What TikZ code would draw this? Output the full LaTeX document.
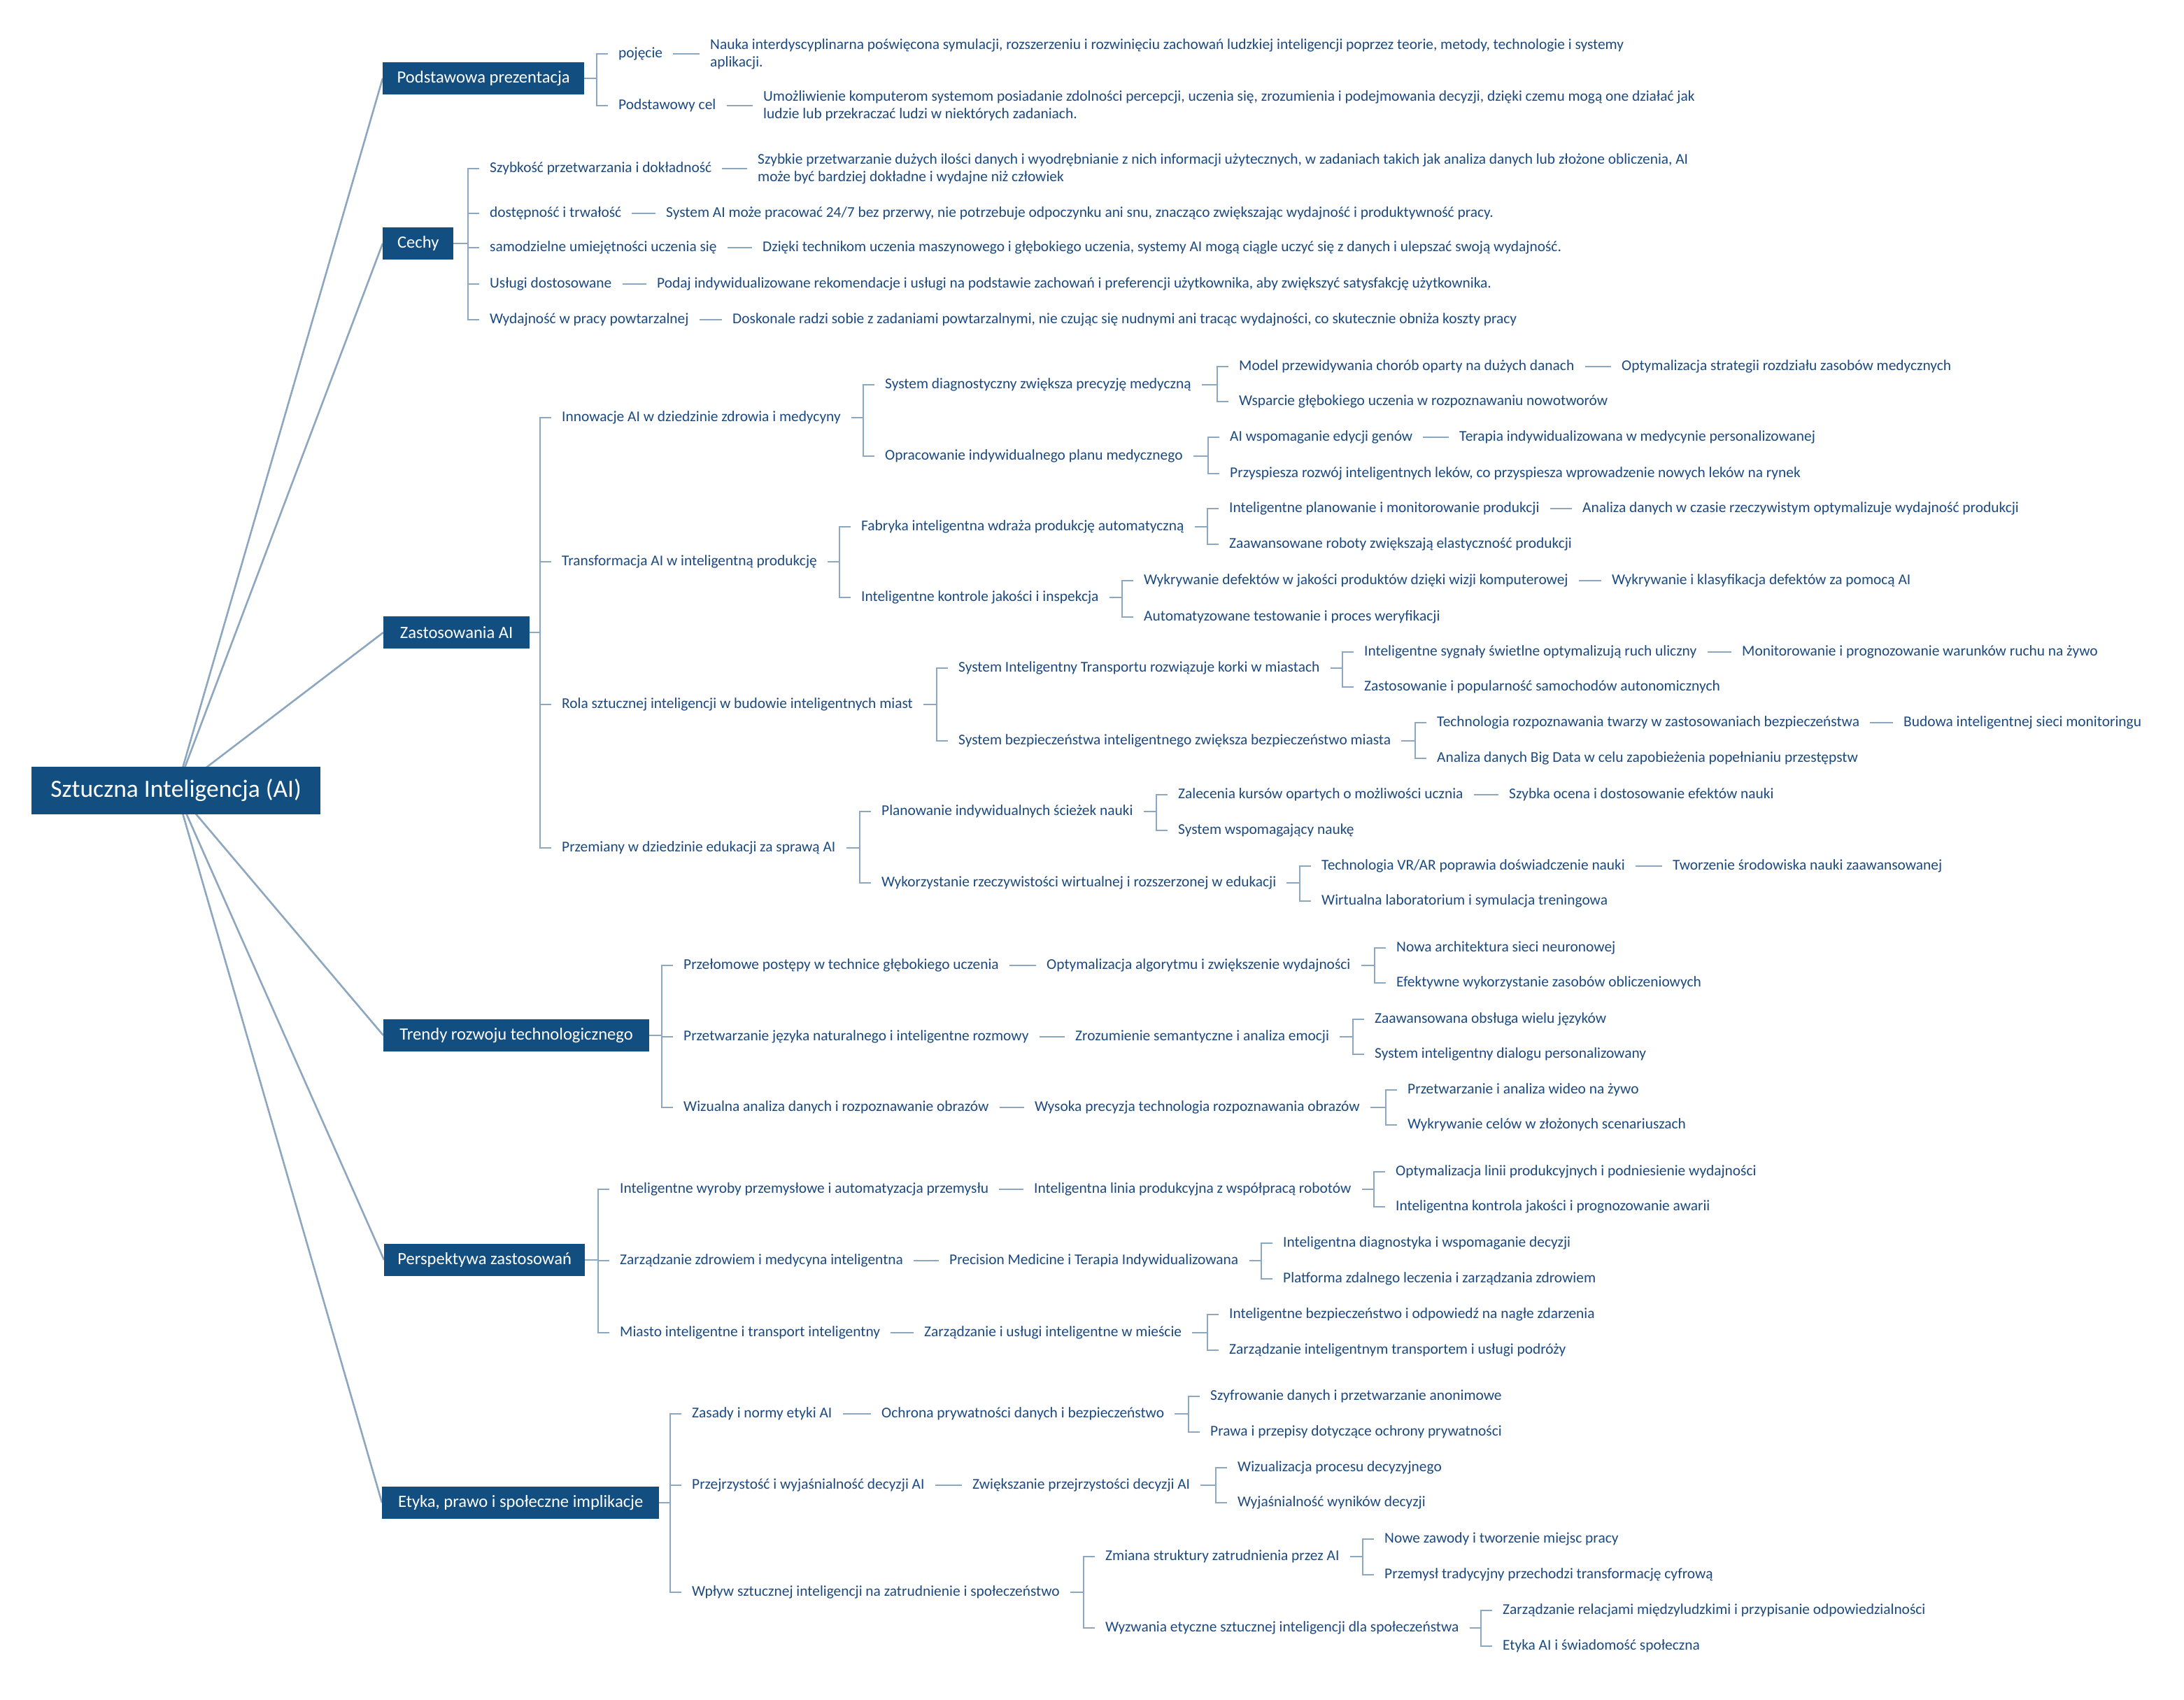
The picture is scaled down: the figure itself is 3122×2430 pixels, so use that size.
\documentclass[tikz,border=0pt]{standalone}
\usepackage{fontspec}
\setmainfont{Carlito}
\usetikzlibrary{backgrounds}
\definecolor{boxblue}{HTML}{124E80}
\definecolor{txt}{HTML}{1C4A80}
\definecolor{ln}{HTML}{8DA7C0}
\begin{document}
\begin{tikzpicture}[x=1pt,y=-1pt,
  t/.style={anchor=west, xshift=-15pt, inner xsep=15pt, inner ysep=1pt, text=txt, font=\fontsize{21.4}{25}\selectfont, align=left},
  bx/.style={anchor=west, fill=boxblue, text=white, font=\fontsize{24.6}{28}\selectfont, minimum height=46pt, inner xsep=0pt, inner ysep=0pt},
  cn/.style={draw=ln, line width=2.2pt},
  rl/.style={draw=ln, line width=2.6pt}]
\useasboundingbox (0,0) rectangle (3122,2430);

% root and level-1 boxes
\node[fill=boxblue, text=white, font=\fontsize{35.5}{40}\selectfont, minimum width=413pt, minimum height=68pt, inner sep=0pt, anchor=west] (root) at (45,1130) {Sztuczna Inteligencja (AI)};
\node[bx, minimum width=288pt] (b1) at (547,112) {Podstawowa prezentacja};
\node[bx, minimum width=101pt] (b2) at (547,348) {Cechy};
\node[bx, minimum width=209pt] (b3) at (548,904) {Zastosowania AI};
\node[bx, minimum width=380pt] (b4) at (548,1480) {Trendy rozwoju technologicznego};
\node[bx, minimum width=287pt] (b5) at (549,1801) {Perspektywa zastosowań};
\node[bx, minimum width=396pt] (b6) at (546,2148) {Etyka, prawo i społeczne implikacje};

\begin{scope}[on background layer]
\fill[white] (0,0) rectangle (3122,2430);
\foreach \b in {b1,b2,b3,b4,b5,b6} \draw[rl] (root.center) -- (\b.west);
\end{scope}

% Podstawowa prezentacja
\node[t] (a1) at (884,77) {pojęcie};
\node[t] (a1x) at (1015,77) {Nauka interdyscyplinarna poświęcona symulacji, rozszerzeniu i rozwinięciu zachowań ludzkiej inteligencji poprzez teorie, metody, technologie i systemy\\aplikacji.};
\node[t] (a2) at (884,151) {Podstawowy cel};
\node[t] (a2x) at (1091,151) {Umożliwienie komputerom systemom posiadanie zdolności percepcji, uczenia się, zrozumienia i podejmowania decyzji, dzięki czemu mogą one działać jak\\ludzie lub przekraczać ludzi w niektórych zadaniach.};

% Cechy
\node[t] (c1) at (700,241) {Szybkość przetwarzania i dokładność};
\node[t] (c1x) at (1083,241) {Szybkie przetwarzanie dużych ilości danych i wyodrębnianie z nich informacji użytecznych, w zadaniach takich jak analiza danych lub złożone obliczenia, AI\\może być bardziej dokładne i wydajne niż człowiek};
\node[t] (c2) at (700,305) {dostępność i trwałość};
\node[t] (c2x) at (952,305) {System AI może pracować 24/7 bez przerwy, nie potrzebuje odpoczynku ani snu, znacząco zwiększając wydajność i produktywność pracy.};
\node[t] (c3) at (700,354) {samodzielne umiejętności uczenia się};
\node[t] (c3x) at (1090,354) {Dzięki technikom uczenia maszynowego i głębokiego uczenia, systemy AI mogą ciągle uczyć się z danych i ulepszać swoją wydajność.};
\node[t] (c4) at (700,406) {Usługi dostosowane};
\node[t] (c4x) at (939,406) {Podaj indywidualizowane rekomendacje i usługi na podstawie zachowań i preferencji użytkownika, aby zwiększyć satysfakcję użytkownika.};
\node[t] (c5) at (700,457) {Wydajność w pracy powtarzalnej};
\node[t] (c5x) at (1047,457) {Doskonale radzi sobie z zadaniami powtarzalnymi, nie czując się nudnymi ani tracąc wydajności, co skutecznie obniża koszty pracy};

% Zastosowania AI
\node[t] (d1) at (803,597) {Innowacje AI w dziedzinie zdrowia i medycyny};
\node[t] (d11) at (1265,550) {System diagnostyczny zwiększa precyzję medyczną};
\node[t] (d111) at (1771,524) {Model przewidywania chorób oparty na dużych danach};
\node[t] (d111x) at (2318,524) {Optymalizacja strategii rozdziału zasobów medycznych};
\node[t] (d112) at (1771,574) {Wsparcie głębokiego uczenia w rozpoznawaniu nowotworów};
\node[t] (d12) at (1265,652) {Opracowanie indywidualnego planu medycznego};
\node[t] (d121) at (1758,625) {AI wspomaganie edycji genów};
\node[t] (d121x) at (2086,625) {Terapia indywidualizowana w medycynie personalizowanej};
\node[t] (d122) at (1758,677) {Przyspiesza rozwój inteligentnych leków, co przyspiesza wprowadzenie nowych leków na rynek};

\node[t] (d2) at (803,803) {Transformacja AI w inteligentną produkcję};
\node[t] (d21) at (1231,753) {Fabryka inteligentna wdraża produkcję automatyczną};
\node[t] (d211) at (1757,727) {Inteligentne planowanie i monitorowanie produkcji};
\node[t] (d211x) at (2262,727) {Analiza danych w czasie rzeczywistym optymalizuje wydajność produkcji};
\node[t] (d212) at (1757,778) {Zaawansowane roboty zwiększają elastyczność produkcji};
\node[t] (d22) at (1231,854) {Inteligentne kontrole jakości i inspekcja};
\node[t] (d221) at (1635,830) {Wykrywanie defektów w jakości produktów dzięki wizji komputerowej};
\node[t] (d221x) at (2304,830) {Wykrywanie i klasyfikacja defektów za pomocą AI};
\node[t] (d222) at (1635,882) {Automatyzowane testowanie i proces weryfikacji};

\node[t] (d3) at (803,1007) {Rola sztucznej inteligencji w budowie inteligentnych miast};
\node[t] (d31) at (1370,955) {System Inteligentny Transportu rozwiązuje korki w miastach};
\node[t] (d311) at (1950,932) {Inteligentne sygnały świetlne optymalizują ruch uliczny};
\node[t] (d311x) at (2490,932) {Monitorowanie i prognozowanie warunków ruchu na żywo};
\node[t] (d312) at (1950,982) {Zastosowanie i popularność samochodów autonomicznych};
\node[t] (d32) at (1370,1059) {System bezpieczeństwa inteligentnego zwiększa bezpieczeństwo miasta};
\node[t] (d321) at (2054,1033) {Technologia rozpoznawania twarzy w zastosowaniach bezpieczeństwa};
\node[t] (d321x) at (2721,1033) {Budowa inteligentnej sieci monitoringu};
\node[t] (d322) at (2054,1084) {Analiza danych Big Data w celu zapobieżenia popełnianiu przestępstw};

\node[t] (d4) at (803,1212) {Przemiany w dziedzinie edukacji za sprawą AI};
\node[t] (d41) at (1260,1160) {Planowanie indywidualnych ścieżek nauki};
\node[t] (d411) at (1684,1136) {Zalecenia kursów opartych o możliwości ucznia};
\node[t] (d411x) at (2157,1136) {Szybka ocena i dostosowanie efektów nauki};
\node[t] (d412) at (1684,1187) {System wspomagający naukę};
\node[t] (d42) at (1260,1262) {Wykorzystanie rzeczywistości wirtualnej i rozszerzonej w edukacji};
\node[t] (d421) at (1889,1238) {Technologia VR/AR poprawia doświadczenie nauki};
\node[t] (d421x) at (2391,1238) {Tworzenie środowiska nauki zaawansowanej};
\node[t] (d422) at (1889,1288) {Wirtualna laboratorium i symulacja treningowa};

% Trendy
\node[t] (e1) at (977,1380) {Przełomowe postępy w technice głębokiego uczenia};
\node[t] (e1x) at (1496,1380) {Optymalizacja algorytmu i zwiększenie wydajności};
\node[t] (e11) at (1996,1355) {Nowa architektura sieci neuronowej};
\node[t] (e12) at (1996,1405) {Efektywne wykorzystanie zasobów obliczeniowych};
\node[t] (e2) at (977,1482) {Przetwarzanie języka naturalnego i inteligentne rozmowy};
\node[t] (e2x) at (1537,1482) {Zrozumienie semantyczne i analiza emocji};
\node[t] (e21) at (1965,1457) {Zaawansowana obsługa wielu języków};
\node[t] (e22) at (1965,1507) {System inteligentny dialogu personalizowany};
\node[t] (e3) at (977,1583) {Wizualna analiza danych i rozpoznawanie obrazów};
\node[t] (e3x) at (1479,1583) {Wysoka precyzja technologia rozpoznawania obrazów};
\node[t] (e31) at (2012,1558) {Przetwarzanie i analiza wideo na żywo};
\node[t] (e32) at (2012,1608) {Wykrywanie celów w złożonych scenariuszach};

% Perspektywa
\node[t] (f1) at (886,1700) {Inteligentne wyroby przemysłowe i automatyzacja przemysłu};
\node[t] (f1x) at (1478,1700) {Inteligentna linia produkcyjna z współpracą robotów};
\node[t] (f11) at (1995,1675) {Optymalizacja linii produkcyjnych i podniesienie wydajności};
\node[t] (f12) at (1995,1725) {Inteligentna kontrola jakości i prognozowanie awarii};
\node[t] (f2) at (886,1802) {Zarządzanie zdrowiem i medycyna inteligentna};
\node[t] (f2x) at (1357,1802) {Precision Medicine i Terapia Indywidualizowana};
\node[t] (f21) at (1834,1777) {Inteligentna diagnostyka i wspomaganie decyzji};
\node[t] (f22) at (1834,1828) {Platforma zdalnego leczenia i zarządzania zdrowiem};
\node[t] (f3) at (886,1905) {Miasto inteligentne i transport inteligentny};
\node[t] (f3x) at (1321,1905) {Zarządzanie i usługi inteligentne w mieście};
\node[t] (f31) at (1757,1879) {Inteligentne bezpieczeństwo i odpowiedź na nagłe zdarzenia};
\node[t] (f32) at (1757,1930) {Zarządzanie inteligentnym transportem i usługi podróży};

% Etyka
\node[t] (g1) at (989,2021) {Zasady i normy etyki AI};
\node[t] (g1x) at (1260,2021) {Ochrona prywatności danych i bezpieczeństwo};
\node[t] (g11) at (1730,1996) {Szyfrowanie danych i przetwarzanie anonimowe};
\node[t] (g12) at (1730,2047) {Prawa i przepisy dotyczące ochrony prywatności};
\node[t] (g2) at (989,2123) {Przejrzystość i wyjaśnialność decyzji AI};
\node[t] (g2x) at (1390,2123) {Zwiększanie przejrzystości decyzji AI};
\node[t] (g21) at (1769,2098) {Wizualizacja procesu decyzyjnego};
\node[t] (g22) at (1769,2148) {Wyjaśnialność wyników decyzji};
\node[t] (g3) at (989,2276) {Wpływ sztucznej inteligencji na zatrudnienie i społeczeństwo};
\node[t] (g31) at (1580,2225) {Zmiana struktury zatrudnienia przez AI};
\node[t] (g311) at (1979,2200) {Nowe zawody i tworzenie miejsc pracy};
\node[t] (g312) at (1979,2251) {Przemysł tradycyjny przechodzi transformację cyfrową};
\node[t] (g32) at (1580,2327) {Wyzwania etyczne sztucznej inteligencji dla społeczeństwa};
\node[t] (g321) at (2148,2302) {Zarządzanie relacjami międzyludzkimi i przypisanie odpowiedzialności};
\node[t] (g322) at (2148,2353) {Etyka AI i świadomość społeczna};

% bracket connectors (child -> parent)
\foreach \p/\c in {b1/a1,b1/a2,b2/c1,b2/c2,b2/c3,b2/c4,b2/c5,
  b3/d1,b3/d2,b3/d3,b3/d4,
  d1/d11,d1/d12,d11/d111,d11/d112,d12/d121,d12/d122,
  d2/d21,d2/d22,d21/d211,d21/d212,d22/d221,d22/d222,
  d3/d31,d3/d32,d31/d311,d31/d312,d32/d321,d32/d322,
  d4/d41,d4/d42,d41/d411,d41/d412,d42/d421,d42/d422,
  b4/e1,b4/e2,b4/e3,e1x/e11,e1x/e12,e2x/e21,e2x/e22,e3x/e31,e3x/e32,
  b5/f1,b5/f2,b5/f3,f1x/f11,f1x/f12,f2x/f21,f2x/f22,f3x/f31,f3x/f32,
  b6/g1,b6/g2,b6/g3,g1x/g11,g1x/g12,g2x/g21,g2x/g22,
  g3/g31,g3/g32,g31/g311,g31/g312,g32/g321,g32/g322}
  \draw[cn] (\c.west) -- ++(-16,0) |- (\p.east);

% single-child dashes
\foreach \a/\b in {a1/a1x,a2/a2x,c1/c1x,c2/c2x,c3/c3x,c4/c4x,c5/c5x,
  d111/d111x,d121/d121x,d211/d211x,d221/d221x,d311/d311x,d321/d321x,d411/d411x,d421/d421x,
  e1/e1x,e2/e2x,e3/e3x,f1/f1x,f2/f2x,f3/f3x,g1/g1x,g2/g2x}
  \draw[cn] (\a.east) -- (\b.west);
\end{tikzpicture}
\end{document}
